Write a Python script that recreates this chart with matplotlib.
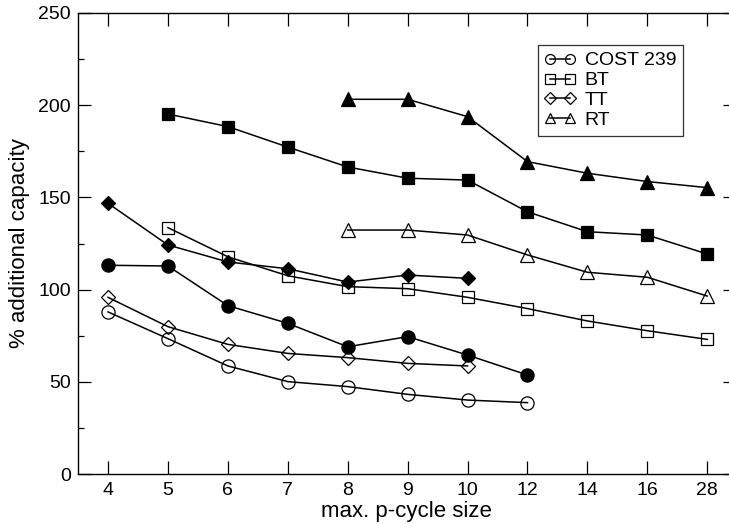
import matplotlib
matplotlib.use("Agg")
import matplotlib.pyplot as plt
from matplotlib.ticker import MultipleLocator

plt.rcParams["font.family"] = ["Liberation Sans", "DejaVu Sans"]

# ── data ────────────────────────────────────────────────────────────
sizes = ["4", "5", "6", "7", "8", "9", "10", "12", "14", "16", "28"]

cost_open = [87.9, 73.4, 58.6, 50.1, 47.4, 43.2, 40.1, 38.7]
cost_fill = [113.2, 112.8, 91.3, 81.7, 69.0, 74.5, 64.5, 53.7]
tt_open = [95.8, 79.9, 70.3, 65.4, 63.1, 60.0, 58.6]
tt_fill = [146.8, 124.2, 115.0, 111.3, 104.1, 107.9, 106.1]
bt_open = [133.6, 117.8, 107.5, 101.6, 100.5, 95.8, 89.7, 83.0, 77.7, 73.0]
bt_fill = [195.2, 188.4, 177.3, 166.5, 160.4, 159.4, 142.2, 131.4, 129.6, 119.3]
rt_open = [132.3, 132.3, 129.6, 118.8, 109.4, 106.7, 96.5]
rt_fill = [203.2, 203.2, 193.8, 169.4, 163.1, 158.6, 155.3]

# first category index of each series
start = {"cost": 0, "tt": 0, "bt": 1, "rt": 4}

fig = plt.figure(figsize=(7.29, 5.24), dpi=100)
# right spine sits just past the image edge, like the original
ax = fig.add_axes([0.1066, 0.0954, 0.903, 0.8798])

def draw(vals, s, marker, filled, ms, label=None):
    xs = list(range(s, s + len(vals)))
    ax.plot(xs, vals, color="black", linewidth=1.1, marker=marker,
            markersize=ms, markerfacecolor="black" if filled else "none",
            markeredgecolor="black", markeredgewidth=0.9, label=label)

draw(cost_open, start["cost"], "o", False, 9.5, "COST 239")
draw(bt_open, start["bt"], "s", False, 8.8, "BT")
draw(tt_open, start["tt"], "D", False, 7.5, "TT")
draw(rt_open, start["rt"], "^", False, 9.5, "RT")
draw(cost_fill, start["cost"], "o", True, 9.5)
draw(bt_fill, start["bt"], "s", True, 8.8)
draw(tt_fill, start["tt"], "D", True, 7.5)
draw(rt_fill, start["rt"], "^", True, 9.5)

ax.set_xlim(-0.506, 10.48)
ax.set_ylim(0, 250)
ax.set_xticks(range(len(sizes)))
ax.set_xticklabels(sizes)
ax.yaxis.set_major_locator(MultipleLocator(50))
ax.yaxis.set_minor_locator(MultipleLocator(25))
ax.tick_params(axis="both", which="both", direction="in", top=True, right=True,
               labelsize=14, width=0.9)
ax.tick_params(which="major", length=9.4)
ax.tick_params(which="minor", length=4.5)
ax.tick_params(axis="x", pad=6)
ax.tick_params(axis="y", pad=5)
for sp in ax.spines.values():
    sp.set_linewidth(1.0)

ax.set_xlabel("max. p-cycle size", fontsize=16, labelpad=1)
ax.set_ylabel("% additional capacity", fontsize=16, labelpad=6)

leg = ax.legend(loc="upper left", bbox_to_anchor=(0.699, 0.9306), numpoints=2,
                fontsize=14, frameon=True, fancybox=False, edgecolor="black",
                handlelength=1.6, handletextpad=0.45, labelspacing=0.12,
                borderpad=0.35, borderaxespad=0, markerscale=0.75)
leg.get_frame().set_linewidth(0.9)

fig.savefig("out.png", dpi=100)
